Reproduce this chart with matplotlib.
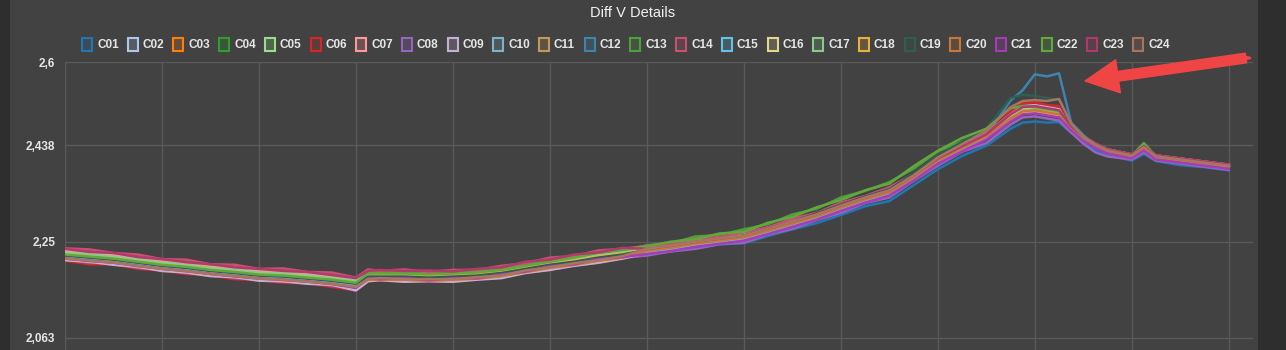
import matplotlib
matplotlib.use("Agg")
import matplotlib.pyplot as plt
from matplotlib.patches import Rectangle, FancyArrowPatch, Circle
import numpy as np

# sample positions of the readings (8 samples per grid column)
sample_idx = [0, 2, 4, 6, 8, 10, 12, 14, 16, 18, 20, 22, 24,
              25, 26, 28, 30, 32, 34, 36, 38, 40, 42, 44, 46,
              48, 50, 52, 54, 56, 58, 60, 62, 64, 66, 68, 70, 72, 74, 76,
              78, 79, 80, 81, 82,
              83, 84, 85, 86, 88, 89, 90, 92, 94, 96]

# cell voltages in mV
C01 = [2221, 2216, 2212, 2208, 2200, 2197, 2190, 2187, 2181, 2180, 2175, 2172, 2164,
       2178, 2176, 2178, 2175, 2177, 2181, 2184, 2192, 2201, 2206, 2214, 2220,
       2226, 2231, 2238, 2245, 2247, 2261, 2274, 2286, 2302, 2319, 2329, 2360, 2391, 2417, 2437,
       2470, 2482, 2484, 2482, 2483,
       2462, 2443, 2429, 2419, 2408, 2421, 2407, 2399, 2395, 2389]
C02 = [2219, 2217, 2209, 2207, 2198, 2196, 2188, 2187, 2179, 2179, 2174, 2170, 2162,
       2180, 2181, 2180, 2178, 2181, 2182, 2188, 2194, 2203, 2210, 2216, 2222,
       2228, 2235, 2241, 2248, 2255, 2266, 2281, 2296, 2311, 2328, 2343, 2370, 2405, 2427, 2452,
       2492, 2506, 2511, 2504, 2500,
       2470, 2450, 2436, 2424, 2415, 2430, 2413, 2408, 2401, 2395]
C03 = [2223, 2220, 2214, 2210, 2202, 2200, 2192, 2190, 2183, 2183, 2177, 2175, 2166,
       2182, 2183, 2181, 2181, 2183, 2185, 2190, 2198, 2206, 2212, 2220, 2226,
       2237, 2241, 2251, 2255, 2263, 2274, 2290, 2302, 2321, 2335, 2351, 2378, 2413, 2435, 2458,
       2490, 2504, 2507, 2502, 2497,
       2470, 2452, 2436, 2427, 2415, 2431, 2414, 2407, 2402, 2395]
C04 = [2229, 2225, 2220, 2214, 2209, 2204, 2199, 2194, 2190, 2187, 2184, 2179, 2173,
       2189, 2187, 2188, 2185, 2189, 2189, 2196, 2202, 2212, 2216, 2226, 2230,
       2236, 2242, 2250, 2256, 2262, 2275, 2289, 2303, 2320, 2336, 2350, 2379, 2412, 2436, 2459,
       2496, 2510, 2512, 2508, 2504,
       2473, 2453, 2439, 2428, 2418, 2436, 2416, 2410, 2404, 2398]
C05 = [2232, 2226, 2224, 2216, 2212, 2206, 2202, 2196, 2193, 2189, 2187, 2181, 2176,
       2190, 2189, 2190, 2188, 2190, 2192, 2197, 2205, 2213, 2219, 2227, 2233,
       2238, 2244, 2252, 2258, 2264, 2277, 2291, 2305, 2322, 2338, 2352, 2381, 2414, 2438, 2460,
       2487, 2500, 2502, 2497, 2494,
       2472, 2453, 2439, 2428, 2418, 2434, 2416, 2410, 2404, 2398]
C06 = [2213, 2206, 2206, 2197, 2194, 2187, 2184, 2177, 2175, 2170, 2169, 2162, 2155,
       2173, 2175, 2172, 2173, 2172, 2177, 2180, 2190, 2195, 2204, 2209, 2218,
       2224, 2233, 2238, 2247, 2250, 2267, 2278, 2295, 2310, 2329, 2340, 2373, 2404, 2433, 2456,
       2504, 2519, 2522, 2516, 2514,
       2472, 2449, 2435, 2424, 2414, 2430, 2412, 2406, 2400, 2394]
C07 = [2232, 2230, 2224, 2220, 2212, 2210, 2202, 2200, 2193, 2193, 2187, 2185, 2177,
       2190, 2190, 2190, 2188, 2190, 2192, 2197, 2205, 2213, 2219, 2227, 2233,
       2238, 2244, 2252, 2258, 2264, 2277, 2291, 2305, 2322, 2338, 2352, 2381, 2414, 2438, 2461,
       2498, 2512, 2514, 2510, 2506,
       2475, 2455, 2441, 2430, 2420, 2435, 2418, 2412, 2406, 2400]
C08 = [2216, 2209, 2208, 2199, 2196, 2189, 2186, 2179, 2177, 2172, 2171, 2164, 2160,
       2176, 2176, 2176, 2174, 2176, 2178, 2183, 2191, 2199, 2205, 2213, 2219,
       2223, 2231, 2236, 2245, 2248, 2264, 2275, 2292, 2306, 2325, 2336, 2368, 2398, 2425, 2442,
       2478, 2492, 2494, 2490, 2486,
       2463, 2441, 2424, 2416, 2410, 2424, 2408, 2402, 2396, 2390]
C09 = [2214, 2211, 2205, 2201, 2193, 2190, 2183, 2181, 2174, 2173, 2168, 2166, 2155,
       2173, 2175, 2172, 2173, 2172, 2176, 2179, 2189, 2195, 2203, 2209, 2217,
       2228, 2234, 2242, 2248, 2254, 2267, 2281, 2295, 2312, 2328, 2342, 2371, 2404, 2428, 2453,
       2498, 2514, 2516, 2512, 2508,
       2471, 2449, 2435, 2424, 2414, 2430, 2412, 2406, 2400, 2394]
C10 = [2221, 2218, 2213, 2206, 2201, 2198, 2191, 2186, 2182, 2181, 2176, 2171, 2166,
       2180, 2181, 2180, 2177, 2180, 2183, 2187, 2194, 2203, 2210, 2217, 2222,
       2232, 2237, 2246, 2253, 2258, 2270, 2285, 2300, 2316, 2331, 2346, 2376, 2408, 2431, 2455,
       2492, 2506, 2508, 2504, 2500,
       2471, 2451, 2437, 2426, 2416, 2432, 2414, 2408, 2402, 2396]
C11 = [2224, 2219, 2216, 2208, 2204, 2198, 2194, 2188, 2185, 2181, 2179, 2173, 2168,
       2176, 2176, 2176, 2174, 2176, 2178, 2183, 2191, 2199, 2205, 2213, 2219,
       2231, 2235, 2245, 2249, 2257, 2268, 2284, 2296, 2315, 2329, 2345, 2372, 2407, 2429, 2454,
       2494, 2508, 2510, 2506, 2502,
       2471, 2451, 2437, 2426, 2416, 2432, 2414, 2408, 2402, 2396]
C12 = [2222, 2218, 2213, 2208, 2201, 2198, 2191, 2188, 2182, 2181, 2176, 2173, 2166,
       2180, 2180, 2180, 2178, 2180, 2182, 2187, 2195, 2203, 2209, 2217, 2223,
       2226, 2232, 2240, 2246, 2252, 2265, 2279, 2293, 2310, 2326, 2340, 2369, 2402, 2428, 2456,
       2525, 2545, 2576, 2572, 2578,
       2482, 2458, 2437, 2424, 2414, 2430, 2412, 2406, 2400, 2394]
C13 = [2227, 2223, 2219, 2213, 2207, 2203, 2197, 2193, 2188, 2186, 2182, 2178, 2172,
       2191, 2189, 2191, 2187, 2191, 2191, 2198, 2204, 2214, 2218, 2228, 2232,
       2243, 2247, 2260, 2263, 2274, 2284, 2303, 2314, 2336, 2349, 2366, 2392, 2426, 2445, 2469,
       2490, 2506, 2508, 2504, 2498,
       2473, 2453, 2439, 2428, 2418, 2440, 2416, 2410, 2404, 2398]
C14 = [2237, 2235, 2228, 2225, 2216, 2215, 2206, 2205, 2197, 2198, 2191, 2190, 2180,
       2196, 2193, 2196, 2191, 2195, 2195, 2203, 2208, 2219, 2222, 2233, 2236,
       2242, 2245, 2256, 2259, 2268, 2278, 2295, 2306, 2326, 2339, 2356, 2382, 2418, 2439, 2462,
       2496, 2510, 2512, 2508, 2504,
       2475, 2455, 2441, 2430, 2420, 2436, 2418, 2412, 2406, 2400]
C15 = [2221, 2217, 2213, 2207, 2201, 2197, 2191, 2187, 2182, 2180, 2176, 2172, 2166,
       2182, 2182, 2182, 2180, 2182, 2184, 2189, 2197, 2205, 2211, 2219, 2225,
       2230, 2236, 2244, 2250, 2256, 2269, 2283, 2297, 2314, 2330, 2344, 2373, 2406, 2430, 2453,
       2488, 2502, 2504, 2500, 2496,
       2471, 2451, 2437, 2426, 2416, 2432, 2414, 2408, 2402, 2396]
C16 = [2225, 2221, 2217, 2211, 2205, 2201, 2195, 2191, 2186, 2184, 2180, 2176, 2170,
       2184, 2184, 2184, 2182, 2184, 2186, 2191, 2199, 2207, 2213, 2221, 2227,
       2234, 2240, 2248, 2254, 2260, 2273, 2287, 2301, 2318, 2334, 2348, 2377, 2410, 2434, 2457,
       2494, 2508, 2510, 2506, 2502,
       2473, 2453, 2439, 2428, 2418, 2434, 2416, 2410, 2404, 2398]
C17 = [2229, 2225, 2221, 2215, 2209, 2205, 2199, 2195, 2190, 2188, 2184, 2180, 2174,
       2186, 2186, 2186, 2184, 2186, 2188, 2193, 2201, 2209, 2215, 2223, 2229,
       2236, 2242, 2250, 2256, 2262, 2275, 2289, 2303, 2320, 2336, 2350, 2379, 2412, 2436, 2459,
       2492, 2506, 2508, 2504, 2500,
       2473, 2453, 2439, 2428, 2418, 2434, 2416, 2410, 2404, 2398]
C18 = [2225, 2221, 2217, 2211, 2205, 2201, 2195, 2191, 2186, 2184, 2180, 2176, 2170,
       2184, 2184, 2184, 2182, 2184, 2186, 2191, 2199, 2207, 2213, 2221, 2227,
       2234, 2240, 2248, 2254, 2260, 2273, 2287, 2301, 2318, 2334, 2348, 2377, 2410, 2434, 2457,
       2488, 2502, 2504, 2500, 2496,
       2471, 2451, 2437, 2426, 2416, 2432, 2414, 2408, 2402, 2396]
C19 = [2223, 2219, 2215, 2209, 2203, 2199, 2193, 2189, 2184, 2182, 2178, 2174, 2168,
       2182, 2182, 2182, 2180, 2182, 2184, 2189, 2197, 2205, 2211, 2219, 2225,
       2234, 2240, 2248, 2254, 2262, 2275, 2289, 2305, 2322, 2338, 2352, 2383, 2418, 2444, 2470,
       2530, 2536, 2534, 2530, 2526,
       2478, 2452, 2437, 2426, 2416, 2432, 2414, 2408, 2402, 2396]
C20 = [2218, 2212, 2210, 2202, 2198, 2192, 2188, 2182, 2179, 2175, 2173, 2167, 2161,
       2176, 2176, 2176, 2174, 2176, 2178, 2183, 2191, 2199, 2205, 2213, 2219,
       2232, 2238, 2246, 2252, 2258, 2271, 2285, 2299, 2316, 2332, 2346, 2375, 2408, 2432, 2455,
       2490, 2504, 2506, 2502, 2498,
       2469, 2449, 2435, 2424, 2414, 2430, 2412, 2406, 2400, 2394]
C21 = [2217, 2213, 2209, 2203, 2197, 2193, 2187, 2183, 2178, 2176, 2172, 2168, 2160,
       2179, 2177, 2179, 2175, 2179, 2179, 2186, 2192, 2202, 2206, 2216, 2220,
       2226, 2232, 2240, 2246, 2252, 2265, 2279, 2293, 2310, 2326, 2340, 2369, 2402, 2426, 2449,
       2484, 2498, 2500, 2496, 2492,
       2467, 2447, 2433, 2422, 2412, 2428, 2410, 2404, 2398, 2392]
C22 = [2225, 2221, 2217, 2211, 2205, 2201, 2195, 2191, 2186, 2184, 2180, 2176, 2170,
       2188, 2188, 2188, 2186, 2188, 2190, 2195, 2203, 2211, 2219, 2229, 2235,
       2241, 2250, 2255, 2266, 2269, 2287, 2298, 2317, 2331, 2350, 2363, 2397, 2427, 2452, 2470,
       2510, 2514, 2512, 2508, 2504,
       2474, 2453, 2439, 2428, 2418, 2442, 2416, 2410, 2404, 2398]
C23 = [2236, 2230, 2228, 2220, 2216, 2210, 2206, 2200, 2197, 2193, 2191, 2185, 2179,
       2193, 2195, 2193, 2194, 2192, 2197, 2200, 2211, 2215, 2225, 2229, 2238,
       2236, 2242, 2250, 2256, 2262, 2275, 2289, 2303, 2320, 2336, 2350, 2379, 2412, 2436, 2459,
       2498, 2512, 2514, 2510, 2506,
       2475, 2455, 2441, 2430, 2420, 2436, 2418, 2412, 2406, 2400]
C24 = [2217, 2213, 2209, 2203, 2197, 2193, 2187, 2183, 2178, 2176, 2172, 2168, 2162,
       2177, 2179, 2177, 2177, 2177, 2181, 2184, 2194, 2200, 2208, 2214, 2222,
       2236, 2242, 2250, 2256, 2262, 2275, 2289, 2303, 2320, 2336, 2350, 2379, 2414, 2440, 2466,
       2512, 2524, 2526, 2524, 2528,
       2480, 2455, 2439, 2428, 2418, 2434, 2416, 2410, 2404, 2398]

series_names = ["C%02d" % i for i in range(1, 25)]
series_data = [C01, C02, C03, C04, C05, C06, C07, C08, C09, C10, C11, C12,
               C13, C14, C15, C16, C17, C18, C19, C20, C21, C22, C23, C24]
colors = ["#1f77b4", "#aec7e8", "#ff7f0e", "#2ca02c", "#98df8a", "#d62728",
          "#ff9896", "#9467bd", "#c5b0d5", "#7fb2c9", "#c49a5a", "#3d85b0",
          "#4e9f3d", "#c9506f", "#5fc4e6", "#e0d890", "#8cc98c", "#e8b040",
          "#2f5e52", "#c8773a", "#a83cb8", "#62a83c", "#b03a6c", "#a87560"]

ytick_vals = [2.0625, 2.25, 2.4375, 2.6]
ytick_labels = ["2,063", "2,25", "2,438", "2,6"]

W, H = 1286, 350
bg = "#424242"
grid_c = "#5a5a5a"
txt_c = "#e6e6e6"

fig = plt.figure(figsize=(W / 100, H / 100), dpi=100, facecolor=bg)

# darker side strips
fig.patches.append(Rectangle((0, 0), 10 / W, 1, transform=fig.transFigure,
                             facecolor="#2e2e2e", edgecolor="none", zorder=0))
fig.patches.append(Rectangle((1258 / W, 0), 1 - 1258 / W, 1, transform=fig.transFigure,
                             facecolor="#2e2e2e", edgecolor="none", zorder=0))

ax = fig.add_axes([65 / W, 0, (1253 - 65) / W, (H - 62) / H])
ax.set_facecolor(bg)

x = np.array(sample_idx)
for name, vals, c in zip(series_names, series_data, colors):
    ax.plot(x, np.array(vals) / 1000.0, color=c, lw=1.8, solid_joinstyle="round", zorder=3)

ax.set_xlim(0, 98)
ax.set_ylim(2.039, 2.6)
ax.set_xticks(np.arange(0, 97, 8))
ax.set_xticklabels([])
ax.set_yticks(ytick_vals)
ax.set_yticklabels(ytick_labels, fontsize=8.5, fontweight="bold", color=txt_c,
                   family="Liberation Sans")
ax.tick_params(length=0, pad=7)
ax.grid(True, color=grid_c, lw=1)
for s in ax.spines.values():
    s.set_visible(False)

fig.text(633 / W, 1 - 13 / H, "Diff V Details", ha="center", va="center",
         color="#f2f2f2", fontsize=10.5, family="Liberation Sans")

# legend row
x0 = 82
pitch = 45.7
for i, (name, c) in enumerate(zip(series_names, colors)):
    lx = x0 + i * pitch
    fig.patches.append(Rectangle((lx / W, 1 - 51 / H), 10 / W, 13 / H,
                                 transform=fig.transFigure, facecolor=c, alpha=0.2,
                                 edgecolor="none"))
    fig.patches.append(Rectangle((lx / W, 1 - 51 / H), 10 / W, 13 / H,
                                 transform=fig.transFigure, facecolor="none",
                                 edgecolor=c, lw=1.5))
    fig.text((lx + 15) / W, 1 - 44.5 / H, name, ha="left", va="center",
             color=txt_c, fontsize=8.5, fontweight="bold", family="Liberation Sans")

# red annotation arrow
arrow_c = "#f04545"
tail = (1246 / W, 1 - 58 / H)
arr = FancyArrowPatch(tail, (1085 / W, 1 - 81 / H),
                      transform=fig.transFigure, shrinkA=0, shrinkB=0,
                      arrowstyle="simple,head_width=24,head_length=24,tail_width=7",
                      color=arrow_c, mutation_scale=1, zorder=10)
fig.patches.append(arr)
fig.patches.append(Circle(tail, 4.5 / W, transform=fig.transFigure,
                          color=arrow_c, zorder=10))

fig.savefig("out.png", dpi=100, facecolor=bg)
